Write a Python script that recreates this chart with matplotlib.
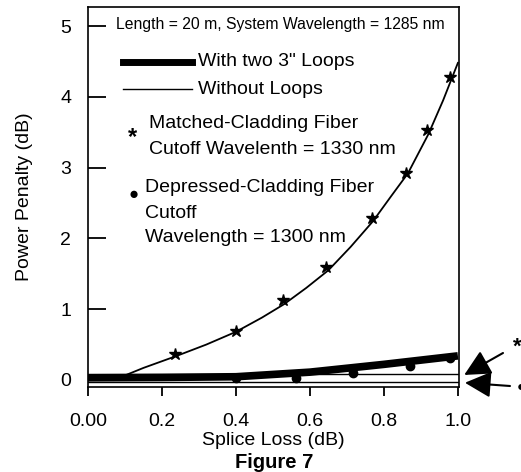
import matplotlib
matplotlib.use("Agg")
import matplotlib.pyplot as plt

plt.rcParams['font.family'] = ['Liberation Sans', 'DejaVu Sans']

# matched-cladding fiber, without loops (stars + fitted curve)
matched_x = [0.234, 0.399, 0.528, 0.644, 0.768, 0.86, 0.917, 0.978]
matched_y = [0.37, 0.69, 1.13, 1.60, 2.29, 2.92, 3.53, 4.28]
curve_x = [0.07, 0.15, 0.24, 0.32, 0.40, 0.47, 0.53, 0.59, 0.65, 0.71, 0.77, 0.82, 0.865, 0.92, 0.96, 1.0]
curve_y = [0.0, 0.17, 0.34, 0.50, 0.68, 0.88, 1.07, 1.30, 1.55, 1.88, 2.24, 2.60, 2.92, 3.47, 3.95, 4.48]

# depressed-cladding fiber, with loops (dots + thick line)
depressed_x = [0.40, 0.563, 0.717, 0.87, 0.98]
depressed_y = [0.03, 0.03, 0.10, 0.20, 0.31]
thick_x = [0.0, 0.2, 0.4, 0.6, 0.8, 1.0]
thick_y = [0.03, 0.035, 0.045, 0.11, 0.22, 0.34]

# flat lines marked by the arrows on the right
flat_x = [0.0, 1.0]
flat_star_y = [0.08, 0.08]
flat_dot_y = [-0.03, -0.03]

xticks = [0.0, 0.2, 0.4, 0.6, 0.8, 1.0]
xtick_labels = ['0.00', '0.2', '0.4', '0.6', '0.8', '1.0']
yticks = [0, 1, 2, 3, 4, 5]


def px(x, y):
    return x / 521, 1 - y / 472


fig = plt.figure(figsize=(5.21, 4.72), dpi=100)
ax = fig.add_axes([88 / 521, 1 - 387 / 472, 371 / 521, 380 / 472])

ax.plot(curve_x, curve_y, color='black', lw=1.3)
ax.plot(matched_x, matched_y, ls='none', marker='*', ms=9, color='black')
ax.plot(thick_x, thick_y, color='black', lw=5.5, solid_capstyle='butt')
ax.plot(depressed_x, depressed_y, ls='none', marker='o', ms=6, color='black')
ax.plot(flat_x, flat_star_y, color='black', lw=1.0)
ax.plot(flat_x, flat_dot_y, color='black', lw=1.0)

ax.set_xlim(0, 1.003)
ax.set_ylim(-0.1, 5.27)
ax.set_xticks(xticks)
ax.set_xticklabels(xtick_labels)
ax.set_yticks(yticks)
ax.tick_params(axis='y', direction='in', length=13, width=1.3, labelsize=14, pad=12)
ax.tick_params(axis='x', direction='out', length=6.5, width=1.3, labelsize=14, pad=12)
for s in ax.spines.values():
    s.set_linewidth(1.2)

ax.set_ylabel('Power Penalty (dB)', fontsize=14, labelpad=20)
ax.set_xlabel('Splice Loss (dB)', fontsize=14, labelpad=2)
fig.text(*px(274, 463), 'Figure 7', fontsize=14.5, fontweight='bold', ha='center', va='center')

# legend block drawn as text
fig.text(*px(116, 24), 'Length = 20 m, System Wavelength = 1285 nm', fontsize=11.3, va='center')
fig.add_artist(plt.Line2D([123 / 521, 192 / 521], [1 - 62 / 472] * 2, color='black', lw=5))
fig.text(*px(198, 62), 'With two 3" Loops', fontsize=14, va='center')
fig.add_artist(plt.Line2D([123 / 521, 192 / 521], [1 - 89 / 472] * 2, color='black', lw=1))
fig.text(*px(198, 89), 'Without Loops', fontsize=14, va='center')
fig.text(*px(133, 138), '*', fontsize=17, fontweight='bold', ha='center', va='center')
fig.text(*px(149, 123), 'Matched-Cladding Fiber', fontsize=14, va='center')
fig.text(*px(149, 150), 'Cutoff Wavelenth = 1330 nm', fontsize=14, va='center')
fig.text(*px(134, 194), '\u25cf', fontsize=12, ha='center', va='center')
fig.text(*px(145, 188), 'Depressed-Cladding Fiber', fontsize=14, va='center')
fig.text(*px(145, 213), 'Cutoff', fontsize=14, va='center')
fig.text(*px(145, 237), 'Wavelength = 1300 nm', fontsize=14, va='center')

# arrows pointing at the flat lines
arrow = dict(arrowstyle='-|>,head_length=0.5,head_width=0.25', color='black', lw=1.5,
             mutation_scale=32, shrinkA=0, shrinkB=0)
ax.annotate('', xy=(1.017, 0.07), xycoords='data', xytext=(503, 472 - 353), textcoords='figure pixels',
            arrowprops=arrow, annotation_clip=False)
ax.annotate('', xy=(1.019, -0.04), xycoords='data', xytext=(510, 472 - 386), textcoords='figure pixels',
            arrowprops=arrow, annotation_clip=False)
fig.text(*px(517, 347), '*', fontsize=16, fontweight='bold', ha='center', va='center')
fig.text(*px(521, 387), '\u25cf', fontsize=10, ha='center', va='center')

fig.savefig('out.png', dpi=100)
